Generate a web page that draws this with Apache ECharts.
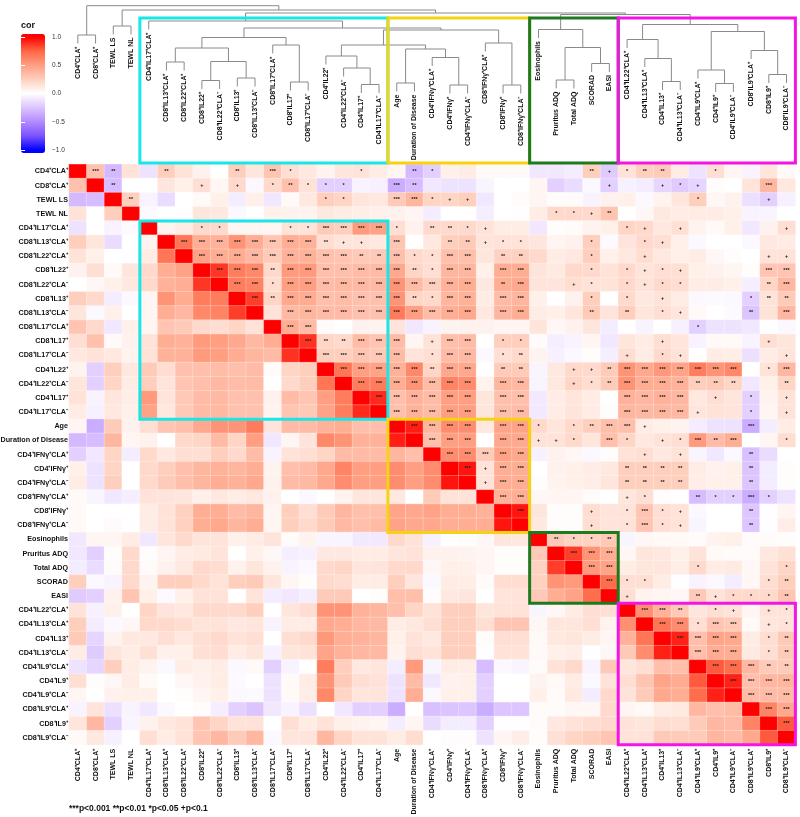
<!DOCTYPE html>
<html><head><meta charset="utf-8">
<style>html,body{margin:0;padding:0;background:#fff}#c{width:800px;height:817px}</style>
<script src="https://cdn.jsdelivr.net/npm/echarts@6/dist/echarts.min.js"></script>
</head><body><div id="c"></div>
<script>
const labels = ['CD4⁺CLA⁺','CD8⁺CLA⁺','TEWL LS','TEWL NL','CD4⁺IL17⁺CLA⁺','CD8⁺IL13⁺CLA⁺','CD8⁺IL22⁺CLA⁺','CD8⁺IL22⁺','CD8⁺IL22⁺CLA⁻','CD8⁺IL13⁺','CD8⁺IL13⁺CLA⁻','CD8⁺IL17⁺CLA⁺','CD8⁺IL17⁺','CD8⁺IL17⁺CLA⁻','CD4⁺IL22⁺','CD4⁺IL22⁺CLA⁻','CD4⁺IL17⁺','CD4⁺IL17⁺CLA⁻','Age','Duration of Disease','CD4⁺IFNγ⁺CLA⁺','CD4⁺IFNγ⁺','CD4⁺IFNγ⁺CLA⁻','CD8⁺IFNγ⁺CLA⁺','CD8⁺IFNγ⁺','CD8⁺IFNγ⁺CLA⁻','Eosinophils','Pruritus ADQ','Total ADQ','SCORAD','EASI','CD4⁺IL22⁺CLA⁺','CD4⁺IL13⁺CLA⁺','CD4⁺IL13⁺','CD4⁺IL13⁺CLA⁻','CD4⁺IL9⁺CLA⁺','CD4⁺IL9⁺','CD4⁺IL9⁺CLA⁻','CD8⁺IL9⁺CLA⁺','CD8⁺IL9⁺','CD8⁺IL9⁺CLA⁻'];

// Upper triangle of the correlation matrix: row i holds columns i+1 ... 40.
const corUpper = [
[.32,-.30,.15, -.12,.25,.15,.07,0,.25,.13,.30,.17,.12,.06,.13,.15,.10, .05,-.30,-.20,.08,.10,.03,.03,.03, -.10,-.10,-.08,.25,-.22, .15,.25,.27,.10,-.12,.17,.05,-.05,.13,.03],
[-.28,0, 0,.13,.08,.17,.04,.20,-.03,.20,.32,.15,-.20,-.20,-.05,-.06, -.35,-.28,-.10,-.12,-.12,-.04,0,0, .05,-.20,-.15,-.03,-.20, -.06,-.08,-.18,-.22,-.18,.01,0,.14,.37,.12],
[.25, -.05,-.15,0,.03,.08,-.08,.08,-.10,.03,.12,.25,.22,.13,.12, .27,.38,.22,.22,.25,-.10,0,.02, .05,.01,.02,-.05,.07, .08,-.03,.06,.13,.25,.04,.07,-.13,-.20,-.06],
[-.02,0,-.01,.13,.12,-.03,0,.08,.07,.06,.12,.10,.09,.08, .07,.05,-.08,0,0,-.07,0,-.01, .10,.20,.20,.20,.30, 0,.04,.12,.10,.10,.10,.08,-.05,-.04,0],
[.06,.10,.20,.20,.05,.05,.05,.15,.15,.27,.25,.52,.48, .17,.07,.20,.20,.20,.15,.10,.10, -.10,.01,.02,.06,.08, .22,.20,.12,.16,.06,.03,.08,-.10,.07,.17],
[.68,.42,.40,.55,.42,.30,.42,.40,.18,.14,.14,.12, .30,0,.12,.25,.27,.14,.15,.15, .13,.05,.07,.25,-.02, .14,.20,.17,.08,-.03,0,0,-.03,.12,.10],
[.48,.42,.43,.37,.27,.40,.40,.32,.30,.28,.28, .33,.20,.17,.33,.33,.13,.24,.24, .20,.10,.12,.25,.08, .12,.18,.12,.08,.10,.04,.01,0,.15,.15],
[.87,.65,.60,.20,.52,.52,.33,.33,.35,.35, .45,.22,.17,.38,.38,.08,.42,.42, .14,.11,.20,.20,.15, .20,.14,.17,.16,.08,.07,.05,.01,.30,.30],
[.65,.62,.18,.50,.50,.34,.36,.36,.36, .55,.35,.25,.40,.42,.12,.42,.45, .14,.14,.18,.15,.15, .20,.15,.20,.18,.10,.10,.08,-.07,.22,.37],
[.85,.22,.45,.43,.33,.34,.32,.32, .55,.22,.20,.38,.40,.10,.35,.38, .08,0,.07,.25,0, .20,.12,.15,.10,-.03,-.02,-.03,-.20,.15,.27],
[.15,.36,.38,.35,.35,.32,.32, .66,.50,.34,.42,.45,.12,.38,.42, .10,.08,.13,.27,.14, .25,.13,.17,.13,.03,0,-.02,-.25,.15,.37],
[.42,.35,.02,0,.07,.06, .14,-.10,-.05,.06,.07,.07,.05,.05, .14,.04,.07,.13,-.08, 0,-.05,0,-.06,-.20,-.12,-.12,-.10,0,-.03],
[.88,.22,.20,.35,.30, .35,.05,.15,.33,.35,0,.25,.25, .02,-.07,-.05,.05,-.10, .13,.10,.17,.13,-.05,.03,.03,-.05,.17,.13],
[.25,.25,.30,.28, .35,.14,.17,.35,.36,-.03,.17,.20, .06,-.06,-.03,.01,-.07, .18,.10,.20,.15,0,.10,.09,-.13,.10,.14],
[.68,.50,.48, .40,.60,.22,.45,.45,0,.27,.27, -.04,.12,.20,.20,.27, .55,.45,.53,.47,.65,.55,.60,0,.15,.37],
[.65,.65, .42,.55,.35,.62,.58,.06,.38,.36, -.04,.12,.22,.18,.27, .55,.42,.42,.40,.25,.27,.22,-.10,.08,.22],
[.90, .33,.40,.35,.50,.50,.13,.33,.33, -.09,.10,.13,.10,0, .40,.37,.40,.37,.12,.17,.13,-.20,.06,.15],
[.33,.40,.35,.50,.50,.13,.33,.35, -.09,.10,.14,.10,.01, .38,.36,.38,.36,.13,.15,.14,-.20,.05,.15],
[.93,.38,.58,.58,.12,.47,.48, .20,.13,.20,.25,.33, .33,.10,.08,.06,-.08,-.12,-.12,-.35,-.08,.10],
[.33,.50,.50,0,.45,.45, .15,.15,.20,.13,.33, .22,.12,.15,.17,.52,.35,.42,0,.05,.18],
[.58,.58,.27,.48,.45, -.06,.07,.04,-.03,.01, .15,.17,.12,.15,-.04,-.10,-.03,-.27,-.15,0],
[.95,.15,.42,.42, 0,.07,.08,.10,.12, .25,.25,.25,.25,.10,.07,.08,-.25,-.08,.01],
[.15,.42,.42, .01,.06,.08,.09,.13, .25,.25,.25,.25,.09,.08,.08,-.24,-.08,.01],
[.40,.42, .04,.05,.05,.02,0, .13,.17,.01,-.01,-.28,-.20,-.20,-.35,-.20,-.12],
[.95, .13,.01,.01,.18,.14, .15,.30,.17,.15,-.03,0,0,-.24,-.01,.05],
[.12,.01,.01,.18,.14, .15,.30,.17,.15,-.04,0,0,-.24,-.01,.09],
[.28,.23,.24,.28, -.04,.04,.03,.03,.02,.06,.08,.02,.02,.01],
[.85,.55,.42, .04,.13,.12,.08,.15,.03,.02,.02,.12,.16],
[.52,.48, .10,.13,.13,.09,.20,.10,.11,.04,.15,.22],
[.72, .17,.17,.10,-.01,-.05,-.03,-.08,.04,.18,.25],
[.17,.06,.05,.04,.28,.15,.20,.20,.20,.30],
[.57,.40,.28,.13,.17,.15,.05,.15,.15],
[.68,.58,.17,.30,.27,.03,.13,.15],
[.92,.33,.47,.45,.10,.18,.28],
[.33,.43,.42,.11,.17,.27],
[.78,.72,.37,.27,.27],
[.92,.33,.37,.38],
[.35,.35,.35],
[.62,.45],
[.78],
[]
];
// Significance codes for the same cells: 0 none, 1 +, 2 *, 3 **, 4 ***.
const sigMarks = ['', '+', '*', '**', '***'];
const sigUpper = [
'430 03000304200020 03200000 00031 2330020000',
'30 00010102322200 43000000 00001 0012100040',
'3 00000000002200 44211000 00000 0000200010',
'00000000000000 00000000 02213 0000000000',
'0022000224444 20332100 00000 2101000001',
'444444443110 40033122 00020 0210000000',
'44444444433 42244033 00020 0100000011',
'4443444444 43244044 00020 2121000044',
'442444444 44444034 00120 2122000034',
'43444444 43244044 00020 2010000233',
'0444444 44444044 00030 3021000304',
'440000 00000000 00000 0000200000',
'43344 40144022 00000 0010000010',
'4444 40244023 00000 1021000001',
'444 44344033 00113 4444444024',
'44 44444044 00123 4444333003',
'4 44444044 00000 4444010201',
'44444044 00000 4444100201',
'4444044 20234 4100000400',
'444044 11204 2012434002',
'44444 00000 0101000300',
'4144 00000 3333000300',
'144 00000 3333000300',
'44 00000 1200322420',
'4 00010 2421000300',
'00010 2421000300',
'3223 0000000000',
'444 0000000000',
'44 0000200002',
'4 2200000023',
'1000312223',
'443021012',
'44244012',
'4444023',
'444023',
'44433',
'4444',
'444',
'44',
'4',
''
].map(s => s.replace(/ /g, ''));

// Dendrogram: [mergeHeight, left, right]; a number child is a leaf index into labels.
const treeIL22 = [114, 14, [102, 15, [85.5, 16, 17]]];
const treeCD8Cyt = [132.5, [122, [108, 5, 6], [108.5, [89.5, 7, 8], [92, 9, 10]]], [125, 11, [88, 12, 13]]];
const treeClinAge = [121, [87, 18, 19], [112.5, 20, [85, 21, 22]]];
const treeCD8Ifn = [127, 23, [85, 24, 25]];
const treeYellowPlus = [140, [125, treeIL22, treeClinAge], treeCD8Ifn];
const treeGreen = [140.5, 26, [122.5, [90, 27, 28], [106.5, 29, 30]]];
const treeMagenta = [145.5, [130.5, 31, [111.5, 32, [88.5, 33, 34]]], [138.5, [100, 35, [86.5, 36, 37]], [119.5, 38, [95.5, 39, 40]]]];
const treeRoot = [164.3, [135, 0, 1], [160, [144, 2, 3], [157, [149, 4, [142, treeCD8Cyt, treeYellowPlus]], [155.5, treeGreen, treeMagenta]]]];
const leafHang = 8.5;

// Module blocks: [first index, last index, colour]
const modules = [[4, 17, '#19E6E6'], [18, 25, '#F6D312'], [26, 30, '#1F7A1F'], [31, 40, '#F514E6']];
const moduleTopBand = [7, 152];

const colorTicks = [1, 0.5, 0, -0.5, -1];
const colorStops = ['#0000FF', '#7C52FF', '#B28BFF', '#DCC4FF', '#FFFFFF', '#FFCFBE', '#FF9E81', '#FF6745', '#FF0000'];
const colorEdge = 1.05;

function hex(c) { return [1, 3, 5].map(i => parseInt(c.substr(i, 2), 16)); }
function rampAt(v) {
  v = Math.max(-1, Math.min(1, v));
  const p = (v + 1) * 4, i = Math.min(7, Math.floor(p)), t = p - i;
  const a = hex(colorStops[i]), b = hex(colorStops[i + 1]);
  return 'rgb(' + a.map((q, k) => Math.round(q + (b[k] - q) * t)).join(',') + ')';
}
const rampList = [];
for (let k = 0; k <= 42; k++) rampList.push(rampAt(-colorEdge + k * 2 * colorEdge / 42));

const n = labels.length;
const heatData = [];
for (let i = 0; i < n; i++) {
  heatData.push([i, i, 1, 0]);
  corUpper[i].forEach((v, k) => {
    const j = i + 1 + k;
    heatData.push([j, i, v, +(sigUpper[i][k] || 0)]);
    heatData.push([i, j, v, 0]);
  });
}

// Tree layout through data indices
const segs = [], leaves = [];
function layout(node, parentH) {
  if (typeof node === 'number') {
    const x = node + 0.5, tip = parentH - leafHang;
    leaves.push([x, tip, node]);
    return [x, tip];
  }
  const [h, l, r] = node;
  const a = layout(l, h), b = layout(r, h);
  segs.push([a[0], h, b[0], h], [a[0], a[1], a[0], h], [b[0], b[1], b[0], h]);
  return [(a[0] + b[0]) / 2, h];
}
layout(treeRoot, treeRoot[0]);

const font = '"Liberation Sans", Arial, sans-serif';
const gL = 69, gW = 726.4;
const chart = echarts.init(document.getElementById('c'), null, {renderer: 'canvas'});
chart.setOption({
  animation: false,
  backgroundColor: '#fff',
  textStyle: {fontFamily: font},
  title: [
    {text: 'cor', left: 21, top: 21, padding: 0, textStyle: {fontSize: 9, fontWeight: 'bold', color: '#111', fontFamily: font}},
    {text: '***p<0.001 **p<0.01 *p<0.05 +p<0.1', left: 69, top: 804, padding: 0, textStyle: {fontSize: 8.5, fontWeight: 'bold', color: '#111', fontFamily: font}}
  ],
  grid: [
    {left: gL, top: 164.3, width: gW, height: 580.5, outerBoundsMode: 'none'},
    {left: gL, top: 0, width: gW, height: 170, outerBoundsMode: 'none'},
    {left: 21, top: 34, width: 24, height: 119, outerBoundsMode: 'none'}
  ],
  xAxis: [
    {type: 'category', gridIndex: 0, data: labels, position: 'bottom', axisLine: {show: false}, axisTick: {show: false}, splitLine: {show: false},
     axisLabel: {interval: 0, rotate: 90, margin: 4, hideOverlap: false, fontSize: 7, fontWeight: 'bold', color: '#111', fontFamily: font}},
    {type: 'value', gridIndex: 1, min: 0, max: n, show: false},
    {type: 'value', gridIndex: 2, min: 0, max: 1, show: false}
  ],
  yAxis: [
    {type: 'category', gridIndex: 0, data: labels, inverse: true, axisLine: {show: false}, axisTick: {show: false}, splitLine: {show: false},
     axisLabel: {interval: 0, margin: 1, hideOverlap: false, fontSize: 7.2, fontWeight: 'bold', color: '#111', fontFamily: font}},
    {type: 'value', gridIndex: 1, min: 0, max: 170, show: false},
    {type: 'value', gridIndex: 2, min: -colorEdge, max: colorEdge, position: 'right', z: 10, splitLine: {show: false}, axisLine: {show: false},
     axisTick: {show: true, inside: true, length: 4, lineStyle: {color: '#fff', width: 1}, customValues: colorTicks},
     axisLabel: {margin: 7, fontSize: 6.5, color: '#333', fontFamily: font, customValues: colorTicks, formatter: v => (v < 0 ? '−' : '') + Math.abs(v).toFixed(1)}},
    {type: 'value', gridIndex: 2, min: -colorEdge, max: colorEdge, position: 'left', z: 10, splitLine: {show: false}, axisLine: {show: false},
     axisTick: {show: true, inside: true, length: 4, lineStyle: {color: '#fff', width: 1}, customValues: colorTicks},
     axisLabel: {show: false}}
  ],
  visualMap: {
    type: 'continuous', seriesIndex: 0, dimension: 2, min: -colorEdge, max: colorEdge, calculable: false, show: true,
    left: 21, top: 34, itemWidth: 24, itemHeight: 119, padding: 0, text: null, z: 1, hoverLink: false,
    inRange: {color: rampList}
  },
  series: [
    {type: 'heatmap', xAxisIndex: 0, yAxisIndex: 0, data: heatData, encode: {x: 0, y: 1},
     itemStyle: {borderColor: 'rgba(255,255,255,0.45)', borderWidth: 0.6},
     label: {show: true, fontSize: 5.5, fontWeight: 'bold', color: '#222', fontFamily: font, padding: 0,
             formatter: p => sigMarks[p.data[3]]},
     emphasis: {disabled: true}, progressive: 0, silent: true},
    {type: 'custom', xAxisIndex: 1, yAxisIndex: 1, data: segs, clip: false, silent: true, z: 3,
     encode: {x: [0, 2], y: [1, 3]},
     renderItem: (p, api) => {
       const a = api.coord([api.value(0), api.value(1)]), b = api.coord([api.value(2), api.value(3)]);
       return {type: 'line', shape: {x1: a[0], y1: a[1], x2: b[0], y2: b[1]}, style: {stroke: '#8a8a8a', lineWidth: 1, fill: null}};
     }},
    {type: 'custom', xAxisIndex: 1, yAxisIndex: 1, data: leaves, clip: false, silent: true, z: 3,
     encode: {x: 0, y: 1},
     renderItem: (p, api) => {
       const a = api.coord([api.value(0), api.value(1)]);
       return {type: 'text', x: a[0], y: a[1] + 3, rotation: Math.PI / 2,
               style: {text: labels[api.value(2)], textAlign: 'right', textVerticalAlign: 'middle', font: 'bold 7px ' + font, fill: '#111'}};
     }},
    {type: 'custom', xAxisIndex: 0, yAxisIndex: 0, data: modules.map(m => [m[0], m[1], m[2]]), clip: false, silent: true, z: 5,
     encode: {x: 0, y: 1},
     renderItem: (p, api) => {
       const s = api.value(0), e = api.value(1), w = api.size([1, 1]);
       const a = api.coord([s, s]), b = api.coord([e, e]);
       const x0 = a[0] - w[0] / 2, y0 = a[1] - w[1] / 2, x1 = b[0] + w[0] / 2, y1 = b[1] + w[1] / 2;
       return {type: 'rect', shape: {x: x0, y: y0, width: x1 - x0, height: y1 - y0},
               style: {stroke: modules[p.dataIndex][2], lineWidth: 3, fill: null}};
     }},
    {type: 'custom', xAxisIndex: 1, yAxisIndex: 1, data: modules.map(m => [m[0], m[1], m[2]]), clip: false, silent: true, z: 5,
     encode: {x: 0, y: 1},
     renderItem: (p, api) => {
       const a = api.coord([api.value(0), moduleTopBand[1]]), b = api.coord([api.value(1) + 1, moduleTopBand[0]]);
       return {type: 'rect', shape: {x: a[0], y: a[1], width: b[0] - a[0], height: b[1] - a[1]},
               style: {stroke: modules[p.dataIndex][2], lineWidth: 3, fill: null}};
     }}
  ]
});
</script></body></html>
